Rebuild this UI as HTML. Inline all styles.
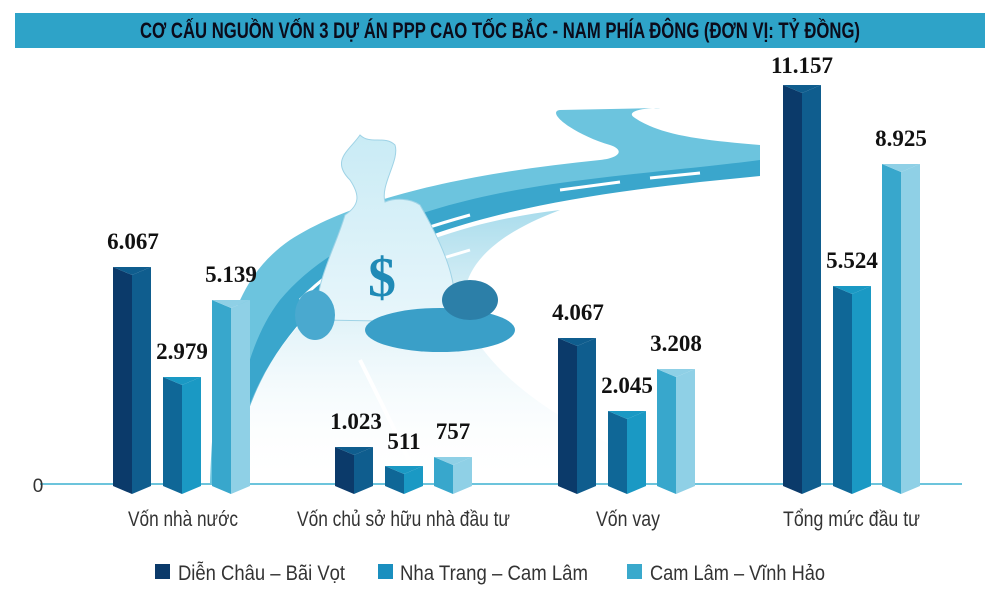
<!DOCTYPE html>
<html><head><meta charset="utf-8"><style>
html,body{margin:0;padding:0;background:#fff}
svg{display:block}
</style></head><body>
<svg width="1000" height="600" viewBox="0 0 1000 600" xmlns="http://www.w3.org/2000/svg">
<defs>
<linearGradient id="fade" x1="0" y1="0" x2="0" y2="1">
<stop offset="0" stop-color="#a9dcec"/><stop offset="1" stop-color="#ffffff" stop-opacity="0"/>
</linearGradient>
<linearGradient id="bag" x1="0" y1="0" x2="0" y2="1">
<stop offset="0" stop-color="#c9ebf5"/><stop offset="1" stop-color="#e8f6fb"/>
</linearGradient>
</defs>
<rect x="15" y="13" width="970" height="35" fill="#2ea3c8"/>
<text x="140" y="38" textLength="720" lengthAdjust="spacingAndGlyphs" font-family="'Liberation Sans',sans-serif" font-weight="bold" font-size="22" fill="#0b0b1a">CƠ CẤU NGUỒN VỐN 3 DỰ ÁN PPP CAO TỐC BẮC - NAM PHÍA ĐÔNG (ĐƠN VỊ: TỶ ĐỒNG)</text>

<!-- background road -->
<path d="M215 484 C225 360 300 270 420 225 C500 195 600 180 700 170 L760 162 L760 145 C700 140 660 135 635 118 C625 112 640 108 660 108 L560 110 C545 112 575 135 610 145 C625 150 620 158 600 160 C480 172 360 195 290 240 C240 275 215 330 210 484 Z" fill="#6cc4de"/>
<path d="M232 484 C245 360 320 275 440 232 C520 205 610 192 700 182 L760 176 L760 160 C700 168 610 175 540 186 C420 205 330 240 280 300 C245 345 232 420 232 484 Z" fill="#3aa6cc"/>
<path d="M232 484 C240 380 300 290 430 240 C480 222 520 215 560 210 C480 240 450 280 470 330 C510 400 600 440 690 484 Z" fill="url(#fade)"/>
<path d="M300 300 C340 260 380 240 470 215 M560 190 L620 182 M650 178 L700 173 M430 262 L470 250" stroke="#fff" stroke-width="3" fill="none"/>
<path d="M360 360 C380 400 400 440 420 484" stroke="#fff" stroke-width="4" fill="none"/>
<!-- money bag -->
<path d="M345 215 C335 250 310 290 320 320 L450 322 C465 290 440 240 420 205 C410 198 395 198 385 202 C380 185 400 160 395 145 C385 135 370 145 360 135 C350 150 330 160 350 180 C360 195 360 205 345 215 Z" fill="url(#bag)" stroke="#9fd3e6"/>
<text x="382" y="296" text-anchor="middle" font-family="'Liberation Serif',serif" font-weight="bold" font-size="56" fill="#1f8ab6">$</text>
<ellipse cx="440" cy="330" rx="75" ry="22" fill="#3a9fc8"/>
<ellipse cx="315" cy="315" rx="20" ry="25" fill="#4aa9cf"/>
<ellipse cx="470" cy="300" rx="28" ry="20" fill="#2c7fa8"/>

<line x1="40" y1="484" x2="962" y2="484" stroke="#6cc4dc" stroke-width="2"/>
<text x="38" y="492" text-anchor="middle" font-family="'Liberation Sans',sans-serif" font-size="19" fill="#333">0</text>

<!-- bars: series 1 -->
<g>
<polygon points="113,267 132,275 132,494 113,486" fill="#0b3a6a"/><polygon points="132,275 151,267 151,486 132,494" fill="#0f5d8e"/><polygon points="113,267 151,267 132,275" fill="#0f5d8e"/>
<polygon points="335,447 354,455 354,494 335,486" fill="#0b3a6a"/><polygon points="354,455 373,447 373,486 354,494" fill="#0f5d8e"/><polygon points="335,447 373,447 354,455" fill="#0f5d8e"/>
<polygon points="558,338 577,346 577,494 558,486" fill="#0b3a6a"/><polygon points="577,346 596,338 596,486 577,494" fill="#0f5d8e"/><polygon points="558,338 596,338 577,346" fill="#0f5d8e"/>
<polygon points="783,85 802,93 802,494 783,486" fill="#0b3a6a"/><polygon points="802,93 821,85 821,486 802,494" fill="#0f5d8e"/><polygon points="783,85 821,85 802,93" fill="#0f5d8e"/>
</g>
<g>
<polygon points="163,377 182,385 182,494 163,486" fill="#0f6797"/><polygon points="182,385 201,377 201,486 182,494" fill="#1a99c4"/><polygon points="163,377 201,377 182,385" fill="#1a99c4"/>
<polygon points="385,466 404,474 404,494 385,486" fill="#0f6797"/><polygon points="404,474 423,466 423,486 404,494" fill="#1a99c4"/><polygon points="385,466 423,466 404,474" fill="#1a99c4"/>
<polygon points="608,411 627,419 627,494 608,486" fill="#0f6797"/><polygon points="627,419 646,411 646,486 627,494" fill="#1a99c4"/><polygon points="608,411 646,411 627,419" fill="#1a99c4"/>
<polygon points="833,286 852,294 852,494 833,486" fill="#0f6797"/><polygon points="852,294 871,286 871,486 852,494" fill="#1a99c4"/><polygon points="833,286 871,286 852,294" fill="#1a99c4"/>
</g>
<g>
<polygon points="212,300 231,308 231,494 212,486" fill="#38a7cc"/><polygon points="231,308 250,300 250,486 231,494" fill="#8fd0e6"/><polygon points="212,300 250,300 231,308" fill="#8fd0e6"/>
<polygon points="434,457 453,465 453,494 434,486" fill="#38a7cc"/><polygon points="453,465 472,457 472,486 453,494" fill="#8fd0e6"/><polygon points="434,457 472,457 453,465" fill="#8fd0e6"/>
<polygon points="657,369 676,377 676,494 657,486" fill="#38a7cc"/><polygon points="676,377 695,369 695,486 676,494" fill="#8fd0e6"/><polygon points="657,369 695,369 676,377" fill="#8fd0e6"/>
<polygon points="882,164 901,172 901,494 882,486" fill="#38a7cc"/><polygon points="901,172 920,164 920,486 901,494" fill="#8fd0e6"/><polygon points="882,164 920,164 901,172" fill="#8fd0e6"/>
</g>

<g font-family="'Liberation Serif',serif" font-weight="bold" font-size="23" fill="#111" text-anchor="middle">
<text x="133" y="249">6.067</text><text x="182" y="359">2.979</text><text x="231" y="282">5.139</text>
<text x="356" y="429">1.023</text><text x="404" y="449">511</text><text x="453" y="439">757</text>
<text x="578" y="320">4.067</text><text x="627" y="393">2.045</text><text x="676" y="351">3.208</text>
<text x="802" y="73">11.157</text><text x="852" y="268">5.524</text><text x="901" y="146">8.925</text>
</g>
<g font-family="'Liberation Sans',sans-serif" font-size="21" fill="#333">
<text x="128" y="526" textLength="110" lengthAdjust="spacingAndGlyphs">Vốn nhà  nước</text>
<text x="297" y="526" textLength="213" lengthAdjust="spacingAndGlyphs">Vốn chủ  sở hữu  nhà  đầu tư</text>
<text x="596" y="526" textLength="64" lengthAdjust="spacingAndGlyphs">Vốn vay</text>
<text x="783" y="526" textLength="137" lengthAdjust="spacingAndGlyphs">Tổng  mức  đầu tư</text>
</g>
<g font-family="'Liberation Sans',sans-serif" font-size="21" fill="#333">
<rect x="155" y="564" width="15" height="15" fill="#0b3a6a"/><text x="178" y="580" textLength="167" lengthAdjust="spacingAndGlyphs">Diễn Châu – Bãi Vọt</text>
<rect x="378" y="564" width="15" height="15" fill="#1a8fbf"/><text x="400" y="580" textLength="188" lengthAdjust="spacingAndGlyphs">Nha Trang – Cam Lâm</text>
<rect x="627" y="564" width="15" height="15" fill="#3aa9cc"/><text x="650" y="580" textLength="175" lengthAdjust="spacingAndGlyphs">Cam Lâm – Vĩnh Hảo</text>
</g>
</svg>
</body></html>
